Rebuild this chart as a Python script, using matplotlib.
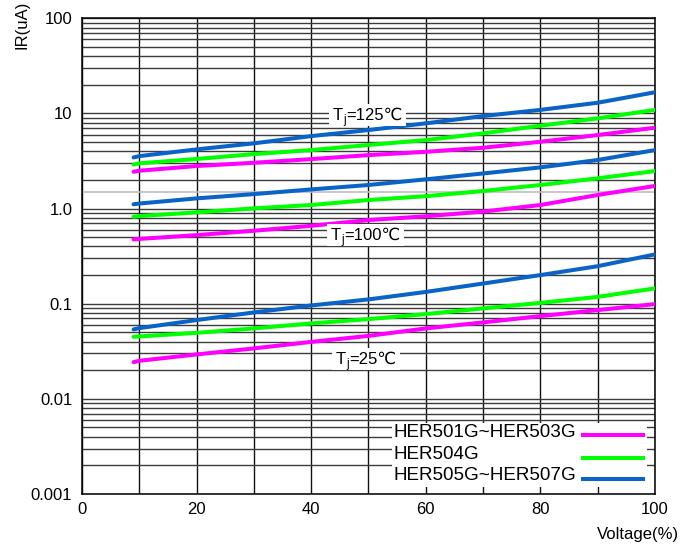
import matplotlib
matplotlib.use("Agg")
import matplotlib.pyplot as plt
from matplotlib.lines import Line2D
from matplotlib.patches import Rectangle
from matplotlib.ticker import FixedLocator, LogLocator, MultipleLocator, NullFormatter

plt.rcParams["font.family"] = ["Liberation Sans", "DejaVu Sans"]
plt.rcParams["font.size"] = 12

# reverse voltage in percent of rated VRRM
voltage = [9, 10, 20, 30, 40, 50, 60, 70, 80, 90, 100]

# reverse current (uA)
her501_125 = [2.44, 2.50, 2.80, 3.03, 3.31, 3.65, 3.95, 4.36, 5.04, 5.93, 7.08]
her504_125 = [2.90, 2.99, 3.32, 3.74, 4.12, 4.66, 5.25, 6.18, 7.43, 8.88, 10.9]
her505_125 = [3.45, 3.56, 4.19, 4.85, 5.78, 6.69, 7.87, 9.39, 10.9, 12.96, 16.7]

her501_100 = [0.474, 0.480, 0.526, 0.585, 0.659, 0.757, 0.830, 0.930, 1.09, 1.39, 1.73]
her504_100 = [0.82, 0.834, 0.912, 1.005, 1.09, 1.23, 1.35, 1.53, 1.77, 2.08, 2.48]
her505_100 = [1.11, 1.13, 1.28, 1.42, 1.59, 1.77, 2.03, 2.34, 2.71, 3.24, 4.12]

her501_25 = [0.0243, 0.0251, 0.0293, 0.0339, 0.0397, 0.0459, 0.0550, 0.0636, 0.0741, 0.0857, 0.099]
her504_25 = [0.0449, 0.0453, 0.0494, 0.0550, 0.0621, 0.0689, 0.0778, 0.0893, 0.102, 0.118, 0.145]
her505_25 = [0.0537, 0.0554, 0.0673, 0.0810, 0.0959, 0.111, 0.133, 0.163, 0.200, 0.248, 0.330]

series_labels = ["HER501G~HER503G", "HER504G", "HER505G~HER507G"]
series_colors = ["#ff00ff", "#00ff00", "#0a64c8"]

temps = ["125", "100", "25"]
temp_x = [43.8, 43.4, 44.3]
temp_y = [9.6, 0.526, 0.026]

y_ticks = [0.001, 0.01, 0.1, 1.0, 10, 100]
y_ticklabels = ["0.001", "0.01", "0.1", "1.0", "10", "100"]

fig = plt.figure(figsize=(6.96, 5.45), dpi=100)
ax = fig.add_axes([0.1178, 0.0936, 0.8233, 0.8728])

groups = [
    (her501_125, her504_125, her505_125),
    (her501_100, her504_100, her505_100),
    (her501_25, her504_25, her505_25),
]
for grp in groups:
    for vals, col in zip(grp, series_colors):
        ax.plot(voltage, vals, color=col, lw=2.9, solid_capstyle="round", zorder=3)

ax.set_yscale("log")
ax.set_xlim(0, 100)
ax.set_ylim(0.001, 100)

ax.xaxis.set_major_locator(MultipleLocator(20))
ax.xaxis.set_minor_locator(MultipleLocator(10))
ax.yaxis.set_major_locator(FixedLocator(y_ticks))
ax.set_yticklabels(y_ticklabels)
ax.yaxis.set_minor_locator(LogLocator(base=10, subs=range(2, 10)))
ax.yaxis.set_minor_formatter(NullFormatter())

ax.set_axisbelow(True)
ax.xaxis.grid(True, which="both", color="#111111", lw=1.0)
ax.yaxis.grid(True, which="both", color="#3c3c3c", lw=1.0)
ax.axhline(1.5, color="#bdbdbd", lw=1.2, zorder=1)

ax.tick_params(which="both", length=0)
ax.tick_params(axis="x", pad=6, labelsize=12)
ax.tick_params(axis="y", pad=7, labelsize=12)
for s in ax.spines.values():
    s.set_linewidth(1.1)
    s.set_color("black")

# Tj labels, white patch behind them hides the grid
for t, x, y in zip(temps, temp_x, temp_y):
    box = dict(fc="white", ec="none", pad=2.5)
    ax.annotate("T", (x, y), xytext=(0, 0), textcoords="offset points",
                ha="left", va="center", fontsize=12, bbox=box, zorder=4)
    ax.annotate("=" + t + "\u2103", (x, y), xytext=(9.6, 0), textcoords="offset points",
                ha="left", va="center", fontsize=12, bbox=box, zorder=4)
    ax.annotate("j", (x, y), xytext=(7.4, -3.5), textcoords="offset points",
                ha="left", va="center", fontsize=8.5, zorder=5)

# legend: labels left, line samples right
ax.add_patch(Rectangle((0.541, 0.0147), 0.445, 0.134, transform=ax.transAxes,
                       fc="white", ec="none", zorder=6))
row_y = [0.130, 0.082, 0.038]
for lab, col, ry in zip(series_labels, series_colors, row_y):
    ax.text(0.543, ry, lab, transform=ax.transAxes, ha="left", va="center",
            fontsize=13.6, zorder=7)
    ax.add_line(Line2D([0.874, 0.979], [ry - 0.006, ry - 0.006], transform=ax.transAxes,
                       color=col, lw=2.9, zorder=7))

fig.text(22 / 696, 1 - 1 / 545, "IR(uA)", rotation=90, ha="center", va="top", fontsize=12)
fig.text(638 / 696, 1 - 535 / 545, "Voltage(%)", ha="center", va="center", fontsize=12)

fig.savefig("out.png", dpi=100)
